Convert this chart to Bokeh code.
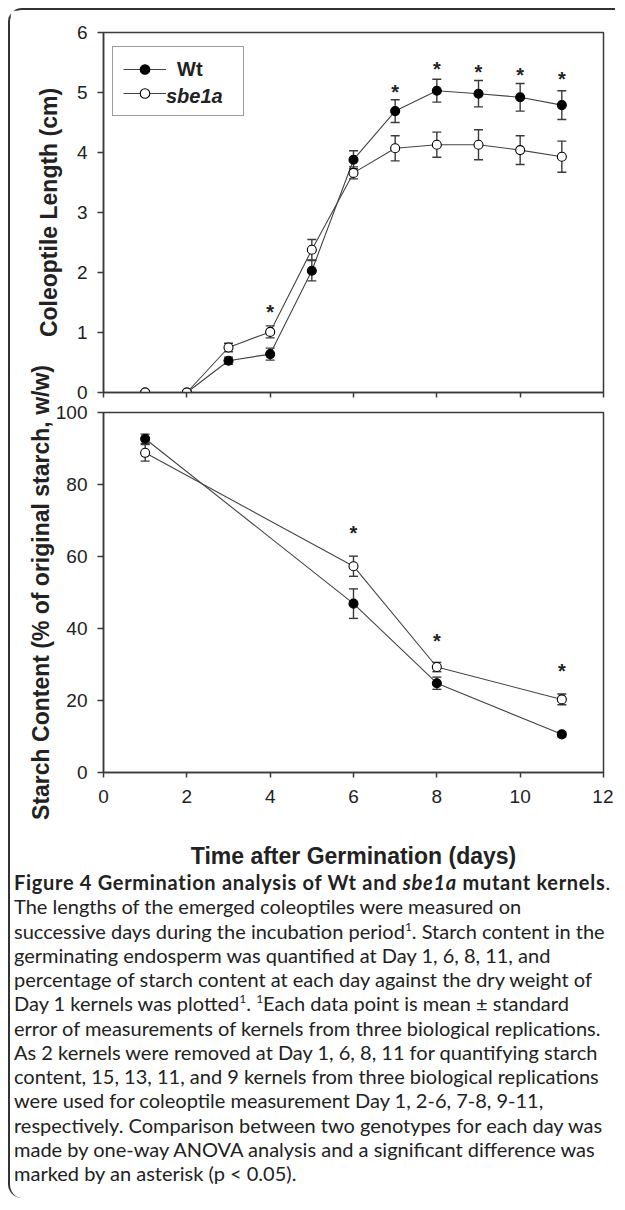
import numpy as np
from bokeh.plotting import figure
from bokeh.models import (ColumnDataSource, Whisker, Legend, LegendItem, Div,
                          FixedTicker, TeeHead, CustomLabelingPolicy)
from bokeh.layouts import column
from bokeh.core.properties import value
from bokeh.embed import file_html
from bokeh.resources import INLINE

# ---------------- data ----------------
days = [1, 2, 3, 4, 5, 6, 7, 8, 9, 10, 11]
wt_len = [0.0, 0.0, 0.53, 0.64, 2.03, 3.88, 4.69, 5.03, 4.98, 4.92, 4.79]
wt_len_se = [0.02, 0.02, 0.06, 0.10, 0.17, 0.15, 0.19, 0.19, 0.22, 0.23, 0.24]
sbe_len = [0.0, 0.0, 0.75, 1.01, 2.38, 3.66, 4.07, 4.13, 4.13, 4.04, 3.93]
sbe_len_se = [0.02, 0.02, 0.07, 0.10, 0.17, 0.10, 0.21, 0.21, 0.25, 0.24, 0.26]
len_star_days = [4, 7, 8, 9, 10, 11]
len_star_y = [1.42, 5.10, 5.48, 5.42, 5.38, 5.31]

starch_days = [1, 6, 8, 11]
wt_starch = [92.7, 46.9, 24.8, 10.6]
wt_starch_se = [1.3, 4.1, 1.7, 0.7]
sbe_starch = [88.8, 57.3, 29.3, 20.3]
sbe_starch_se = [2.3, 2.8, 1.3, 1.5]
starch_star_days = [6, 8, 11]
starch_star_y = [68.0, 38.0, 29.7]

x_ticks = [0, 2, 4, 6, 8, 10, 12]
len_ticks = [0, 1, 2, 3, 4, 5, 6]
starch_ticks = [0, 20, 40, 60, 80, 100]

FONT = "Liberation Sans"
AX = "#3a3a3a"
TXT = "#222222"
LINE = "#444444"


def style(p):
    p.outline_line_color = AX
    p.outline_line_width = 1.5
    p.grid.visible = False
    for ax in (p.xaxis[0], p.yaxis[0]):
        ax.axis_line_color = AX
        ax.axis_line_width = 1.5
        ax.major_tick_line_color = AX
        ax.major_tick_line_width = 1.5
        ax.major_tick_in = 0
        ax.minor_tick_line_color = None
        ax.major_label_text_font = FONT
        ax.major_label_text_font_size = "19px"
        ax.major_label_text_color = TXT
        ax.axis_label_text_font = FONT
        ax.axis_label_text_font_size = "23px"
        ax.axis_label_text_font_style = "bold"
        ax.axis_label_text_color = TXT
    p.xaxis.major_tick_out = 5
    p.yaxis.major_tick_out = 6
    p.yaxis.major_label_standoff = 10


def series(p, x, y, se, filled):
    lo = [a - b for a, b in zip(y, se)]
    hi = [a + b for a, b in zip(y, se)]
    src = ColumnDataSource(dict(x=x, y=y, lo=lo, hi=hi))
    ln = p.line("x", "y", source=src, line_color=LINE, line_width=1.1)
    w = Whisker(base="x", upper="hi", lower="lo", source=src,
                line_color=AX, line_width=1.4,
                upper_head=TeeHead(size=9, line_color=AX, line_width=1.4),
                lower_head=TeeHead(size=9, line_color=AX, line_width=1.4))
    p.add_layout(w)
    sc = p.scatter("x", "y", source=src, marker="circle", size=9,
                   fill_color="black" if filled else "white",
                   line_color="black", line_width=1.1)
    return ln, sc


def stars(p, x, y):
    p.text(x=x, y=y, text=["*"] * len(x), text_font=value(FONT),
           text_font_style="bold", text_font_size="20px", text_color=TXT,
           text_align="center", text_baseline="middle", y_offset=5)


# ---------------- top panel ----------------
p1 = figure(width=603, height=394, x_range=(0, 12), y_range=(0, 6),
            output_backend="svg", toolbar_location=None,
            min_border_left=93, min_border_right=10, min_border_top=22,
            min_border_bottom=12)
style(p1)
p1.xaxis.ticker = FixedTicker(ticks=x_ticks)
p1.xaxis.major_label_text_font_size = "0px"
p1.xaxis.major_label_standoff = 0
p1.xaxis.major_label_policy = CustomLabelingPolicy(
    code="for (let i = 0; i < indices.size; i++) { indices.unset(i) }")
p1.yaxis.ticker = FixedTicker(ticks=len_ticks)
p1.yaxis.axis_label = "Coleoptile Length (cm)"
p1.yaxis.axis_label_standoff = 12

wt_l, wt_s = series(p1, days, wt_len, wt_len_se, True)
sb_l, sb_s = series(p1, days, sbe_len, sbe_len_se, False)
stars(p1, len_star_days, len_star_y)

# invisible stand-in so the italic label can sit over the boxed legend's 2nd row
ghost = p1.scatter(x=[], y=[], marker="circle", size=9, fill_alpha=0, line_alpha=0)

leg_kw = dict(glyph_width=43, glyph_height=24, label_height=24,
              spacing=0, padding=10, margin=0, label_standoff=11, label_width=56,
              label_text_font=FONT, label_text_font_size="20px",
              label_text_color=TXT)
legA = Legend(items=[LegendItem(label="Wt", renderers=[wt_l, wt_s]),
                     LegendItem(label=" ", renderers=[sb_l, sb_s])],
              location=(9, 276),
              border_line_color=AX, border_line_width=1.5,
              background_fill_color="white", background_fill_alpha=1.0,
              label_text_font_style="bold", **leg_kw)
legB = Legend(items=[LegendItem(label="sbe1a", renderers=[ghost])],
              location=(9, 284),
              border_line_color=None, background_fill_alpha=0.0,
              label_text_font_style="bold italic", **leg_kw)
p1.add_layout(legA)
p1.add_layout(legB)

# ---------------- bottom panel ----------------
p2 = figure(width=603, height=554, x_range=(0, 12), y_range=(0, 100),
            output_backend="svg", toolbar_location=None,
            min_border_left=93, min_border_right=10, min_border_top=92,
            min_border_bottom=102)
style(p2)
p2.background_fill_color = None
p2.border_fill_color = None
p2.xaxis.ticker = FixedTicker(ticks=x_ticks)
p2.yaxis.ticker = FixedTicker(ticks=starch_ticks)
p2.xaxis.major_label_standoff = 12
p2.xaxis.axis_label = "Time after Germination (days)"
p2.xaxis.axis_label_standoff = 37
p2.yaxis.axis_label = "Starch Content (% of original starch, w/w)"
p2.yaxis.axis_label_standoff = -1

series(p2, starch_days, wt_starch, wt_starch_se, True)
series(p2, starch_days, sbe_starch, sbe_starch_se, False)
stars(p2, starch_star_days, starch_star_y)
p2.margin = (-84, 0, 0, 0)

# ---------------- caption ----------------
sup = '<sup style="font-size:0.6em;line-height:0;vertical-align:super;">1</sup>'
lines = [
    '<span style="letter-spacing:0.7px;"><b>Figure 4 Germination analysis of Wt and '
    '<i>sbe1a</i> mutant kernels</b>.</span>',
    'The lengths of the emerged coleoptiles were measured on',
    'successive days during the incubation period' + sup + '. Starch content in the',
    'germinating endosperm was quantified at Day 1, 6, 8, 11, and',
    'percentage of starch content at each day against the dry weight of',
    'Day 1 kernels was plotted' + sup + '. ' + sup + 'Each data point is mean &plusmn; standard',
    'error of measurements of kernels from three biological replications.',
    'As 2 kernels were removed at Day 1, 6, 8, 11 for quantifying starch',
    'content, 15, 13, 11, and 9 kernels from three biological replications',
    'were used for coleoptile measurement Day 1, 2-6, 7-8, 9-11,',
    'respectively. Comparison between two genotypes for each day was',
    'made by one-way ANOVA analysis and a significant difference was',
    'marked by an asterisk (p &lt; 0.05).',
]
cap_html = ('<div style="font-family:\'Lato\';font-size:20px;line-height:24.25px;'
            'color:#222;white-space:nowrap;padding-left:2px;">'
            + '<br>'.join(lines) + '</div>')
cap = Div(text=cap_html, width=603, height=328)
cap.margin = (-4, 0, 0, 2)

layout = column(p1, p2, cap,
                styles={"border-left": "2px solid #333", "border-top": "2px solid #333",
                        "border-top-left-radius": "14px",
                        "border-bottom-left-radius": "14px"})
layout.margin = (8, 0, 0, 8)

open("out.html", "w").write(file_html(layout, INLINE))
